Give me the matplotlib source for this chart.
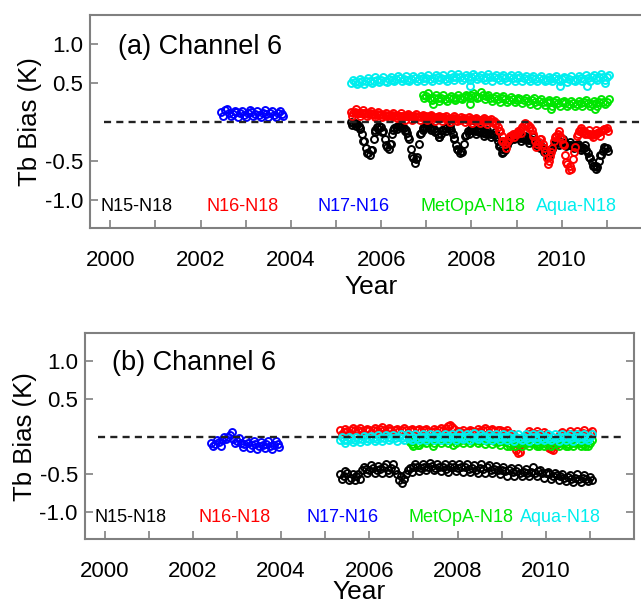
import numpy as np
import matplotlib
matplotlib.use("Agg")
import matplotlib.pyplot as plt

plt.rcParams['font.family'] = ['Liberation Sans', 'DejaVu Sans']

# ---------------- data ----------------
series_names = ["N15-N18", "N16-N18", "N17-N16", "MetOpA-N18", "Aqua-N18"]
series_colors = ["#000000", "#ff0000", "#0000ff", "#00e600", "#00eeee"]
label_years = [1999.78, 2002.13, 2004.58, 2006.88, 2009.42]

year_ticks = list(range(2000, 2012))
year_labels = ["2000", "", "2002", "", "2004", "", "2006", "", "2008", "", "2010", ""]
bias_ticks = [-1.0, -0.5, 0.5, 1.0]
bias_labels = ["-1.0", "-0.5", "0.5", "1.0"]

START = 2005.333      # start of N15/N16/Aqua records
MET_START = 2006.917  # start of MetOpA record
N17_START_A = 2002.46
N17_START_B = 2002.42

# --- panel (a): semi-monthly N15-N18 and N16-N18 (+ monthly second reading)
a_n15 = [0.00, -0.02, -0.01, -0.03, -0.05, -0.08, -0.15, -0.25, -0.33, -0.40, -0.42, -0.36,
         -0.22, -0.10, -0.06, -0.05, -0.07, -0.12, -0.22, -0.32, -0.35, -0.28, -0.15, -0.08,
         -0.06, -0.05, -0.06, -0.07, -0.08, -0.10, -0.14, -0.22, -0.35, -0.46, -0.53, -0.45,
         -0.28, -0.14, -0.08, -0.06, -0.07, -0.06, -0.08, -0.07, -0.09, -0.12, -0.16, -0.19,
         -0.15, -0.10, -0.08, -0.07, -0.09, -0.11, -0.15, -0.22, -0.30, -0.36, -0.40, -0.38,
         -0.28, -0.17, -0.12, -0.10, -0.11, -0.10, -0.12, -0.11, -0.13, -0.12, -0.14, -0.13,
         -0.15, -0.14, -0.16, -0.15, -0.17, -0.20, -0.25, -0.30, -0.35, -0.38, -0.36, -0.30,
         -0.24, -0.20, -0.18, -0.19, -0.20, -0.19, -0.21, -0.20, -0.22, -0.21, -0.23, -0.22,
         -0.24, -0.23, -0.25, -0.27, -0.29, -0.31, -0.34, -0.37, -0.40, -0.42, -0.40, -0.35,
         -0.30, -0.27, -0.26, -0.27, -0.26, -0.28, -0.27, -0.29, -0.30, -0.29, -0.31, -0.30,
         -0.32, -0.31, -0.33, -0.32, -0.34, -0.36, -0.40, -0.46, -0.52, -0.57, -0.60, -0.58,
         -0.50, -0.42, -0.37, -0.34, -0.33]
a_n15_alt = [-0.04, -0.05, -0.09, -0.24, -0.40, -0.36, -0.13, -0.09, -0.13, -0.30,
             -0.28, -0.10, -0.09, -0.03, -0.12, -0.20, -0.44, -0.47, -0.16, -0.11,
             -0.03, -0.11, -0.13, -0.20, -0.11, -0.12, -0.05, -0.21, -0.35, -0.37,
             -0.18, -0.15, -0.07, -0.16, -0.09, -0.18, -0.11, -0.20, -0.13, -0.31,
             -0.40, -0.30, -0.21, -0.22, -0.16, -0.25, -0.18, -0.27, -0.20, -0.29,
             -0.33, -0.39, -0.45, -0.35, -0.27, -0.30, -0.22, -0.31, -0.26, -0.34,
             -0.28, -0.36, -0.30, -0.45, -0.57, -0.57, -0.43, -0.32, -0.37]
a_n16 = [0.13, 0.12, 0.13, 0.11, 0.12, 0.11, 0.12, 0.11, 0.11, 0.10, 0.11, 0.10,
         0.10, 0.09, 0.10, 0.09, 0.10, 0.09, 0.09, 0.08, 0.09, 0.08, 0.09, 0.08,
         0.09, 0.08, 0.07, 0.08, 0.07, 0.08, 0.07, 0.08, 0.07, 0.08, 0.07, 0.06,
         0.07, 0.06, 0.07, 0.06, 0.07, 0.06, 0.07, 0.06, 0.05, 0.06, 0.05, 0.06,
         0.05, 0.06, 0.05, 0.04, 0.05, 0.04, 0.05, 0.04, 0.05, 0.04, 0.03, 0.04,
         0.05, 0.04, 0.03, 0.04, 0.03, 0.04, 0.03, 0.02, 0.03, 0.02, 0.03, 0.02,
         0.01, 0.02, 0.01, 0.00, 0.01, -0.02, -0.06, -0.12, -0.18, -0.24, -0.28, -0.26,
         -0.22, -0.18, -0.16, -0.15, -0.16, -0.14, -0.10, -0.06, -0.04, -0.03, -0.04, -0.06,
         -0.10, -0.16, -0.24, -0.28, -0.26, -0.22, -0.28, -0.38, -0.46, -0.50, -0.44, -0.34,
         -0.24, -0.18, -0.16, -0.18, -0.22, -0.30, -0.42, -0.54, -0.62, -0.60, -0.48, -0.32,
         -0.18, -0.12, -0.11, -0.13, -0.12, -0.14, -0.16, -0.15, -0.17, -0.16, -0.15, -0.14,
         -0.13, -0.12, -0.10, -0.09, -0.08]
a_n16_alt = [0.08, 0.16, 0.08, 0.15, 0.07, 0.14, 0.06, 0.13, 0.06, 0.12,
             0.05, 0.12, 0.05, 0.11, 0.03, 0.10, 0.03, 0.10, 0.03, 0.09,
             0.03, 0.09, 0.01, 0.08, 0.01, 0.08, 0.00, 0.07, 0.01, 0.06,
             0.00, 0.06, -0.01, 0.05, -0.02, 0.05, -0.03, 0.04, -0.03, -0.12,
             -0.24, -0.33, -0.18, -0.20, -0.12, -0.14, -0.01, -0.08, -0.18, -0.32,
             -0.22, -0.34, -0.54, -0.38, -0.20, -0.12, -0.28, -0.52, -0.56, -0.38,
             -0.15, -0.08, -0.16, -0.10, -0.20, -0.11, -0.18, -0.09, -0.12]
# monthly
a_n17 = [0.13, 0.15, 0.12, 0.10, 0.13, 0.11, 0.09, 0.12, 0.13, 0.10, 0.09, 0.12,
         0.10, 0.12, 0.09, 0.11, 0.10]
a_n17_alt = [0.07, 0.16, 0.07, 0.14, 0.06, 0.14, 0.06, 0.15, 0.07, 0.14, 0.06, 0.15,
             0.06, 0.14, 0.06, 0.14, 0.07]
a_met = [0.34,
         0.33, 0.31, 0.30, 0.31, 0.30, 0.29, 0.30, 0.31, 0.30, 0.31, 0.32, 0.33,
         0.34, 0.33, 0.32, 0.35, 0.33, 0.31, 0.30, 0.29, 0.30, 0.29, 0.28, 0.29,
         0.28, 0.29, 0.28, 0.27, 0.28, 0.26, 0.27, 0.26, 0.25, 0.26, 0.25, 0.24,
         0.25, 0.24, 0.23, 0.24, 0.23, 0.24, 0.25, 0.24, 0.23, 0.24, 0.25, 0.26, 0.26]
a_met_alt = [0.30, 0.37, 0.28, 0.34, 0.27, 0.34, 0.27, 0.33, 0.28, 0.34,
             0.29, 0.35, 0.30, 0.37, 0.30, 0.38, 0.29, 0.35, 0.27, 0.33,
             0.26, 0.33, 0.25, 0.32, 0.25, 0.31, 0.24, 0.31, 0.23, 0.30,
             0.22, 0.29, 0.22, 0.28, 0.21, 0.28, 0.20, 0.27, 0.21, 0.27,
             0.20, 0.27, 0.21, 0.28, 0.20, 0.27, 0.21, 0.29, 0.23, 0.29]
a_aqua = [0.50, 0.51, 0.51, 0.52, 0.53, 0.52, 0.53, 0.54,
          0.54, 0.53, 0.55, 0.54, 0.55, 0.56, 0.55, 0.54, 0.55, 0.56, 0.55, 0.56,
          0.56, 0.55, 0.56, 0.57, 0.56, 0.55, 0.56, 0.57, 0.58, 0.57, 0.56, 0.57,
          0.58, 0.59, 0.57, 0.56, 0.57, 0.58, 0.57, 0.56, 0.57, 0.56, 0.57, 0.56,
          0.56, 0.57, 0.56, 0.55, 0.56, 0.55, 0.56, 0.55, 0.54, 0.55, 0.56, 0.55,
          0.55, 0.56, 0.55, 0.54, 0.55, 0.56, 0.55, 0.56, 0.57, 0.56, 0.57, 0.58, 0.57]
a_aqua_alt = [0.54, 0.48, 0.55, 0.49, 0.56, 0.50, 0.57, 0.51, 0.58, 0.51,
              0.58, 0.52, 0.59, 0.52, 0.59, 0.53, 0.59, 0.52, 0.59, 0.53,
              0.60, 0.52, 0.60, 0.54, 0.60, 0.53, 0.61, 0.54, 0.62, 0.54,
              0.60, 0.54, 0.62, 0.55, 0.60, 0.54, 0.61, 0.53, 0.60, 0.54,
              0.60, 0.53, 0.60, 0.53, 0.60, 0.52, 0.59, 0.53, 0.59, 0.52,
              0.59, 0.52, 0.58, 0.52, 0.59, 0.52, 0.58, 0.51, 0.59, 0.52,
              0.59, 0.53, 0.60, 0.53, 0.60, 0.54, 0.61, 0.54, 0.60]
a_met_out_t = [2007.15, 2007.96, 2009.77, 2010.73]
a_met_out_v = [0.23, 0.23, 0.16, 0.16]
a_aqua_out_t = [2007.96, 2009.96, 2010.55, 2010.95]
a_aqua_out_v = [0.46, 0.46, 0.46, 0.50]

# --- panel (b): monthly (+ second reading half a month later)
b_n15 = [-0.50, -0.52, -0.49, -0.55, -0.58, -0.50, -0.45, -0.43,
         -0.44, -0.42, -0.45, -0.43, -0.41, -0.44, -0.42, -0.45, -0.58, -0.62, -0.50, -0.42,
         -0.41, -0.40, -0.42, -0.40, -0.41, -0.39, -0.42, -0.40, -0.41, -0.43, -0.40, -0.41,
         -0.42, -0.40, -0.41, -0.43, -0.42, -0.44, -0.42, -0.43, -0.41, -0.44, -0.43, -0.45,
         -0.44, -0.46, -0.45, -0.47, -0.46, -0.48, -0.47, -0.49, -0.47, -0.48, -0.46, -0.48,
         -0.49, -0.50, -0.52, -0.51, -0.53, -0.55, -0.54, -0.56, -0.55, -0.57, -0.55, -0.56, -0.54]
b_n15_alt = [-0.56, -0.46, -0.58, -0.50, -0.52, -0.56, -0.40, -0.49, -0.38, -0.48,
             -0.39, -0.49, -0.36, -0.48, -0.37, -0.50, -0.52, -0.57, -0.45, -0.47,
             -0.36, -0.46, -0.37, -0.45, -0.35, -0.45, -0.37, -0.46, -0.36, -0.47,
             -0.36, -0.46, -0.37, -0.47, -0.36, -0.47, -0.38, -0.48, -0.37, -0.48,
             -0.38, -0.49, -0.39, -0.50, -0.41, -0.52, -0.42, -0.52, -0.42, -0.53,
             -0.43, -0.53, -0.41, -0.53, -0.45, -0.55, -0.47, -0.57, -0.48, -0.58,
             -0.50, -0.59, -0.51, -0.60, -0.50, -0.60, -0.51, -0.59, -0.58]
b_n16 = [0.08, 0.06, 0.07, 0.08, 0.09, 0.08, 0.07, 0.08,
         0.09, 0.08, 0.09, 0.10, 0.09, 0.08, 0.09, 0.08, 0.07, 0.08, 0.09, 0.08,
         0.07, 0.08, 0.07, 0.08, 0.07, 0.06, 0.07, 0.08, 0.09, 0.11, 0.15, 0.10,
         0.07, 0.06, 0.05, 0.06, 0.07, 0.06, 0.07, 0.08, 0.09, 0.08, 0.07, 0.08,
         0.07, 0.06, 0.05, 0.03, -0.18, -0.20, -0.05, 0.04, 0.05, 0.04, 0.03, 0.02,
         0.03, -0.15, -0.18, -0.10, 0.03, 0.04, 0.03, 0.04, 0.03, 0.04, 0.05, 0.04, 0.05]
b_n16_alt = [0.04, 0.10, 0.04, 0.11, 0.05, 0.11, 0.04, 0.10, 0.05, 0.11,
             0.05, 0.12, 0.05, 0.11, 0.05, 0.10, 0.04, 0.11, 0.05, 0.10,
             0.04, 0.10, 0.04, 0.10, 0.03, 0.10, 0.04, 0.11, 0.06, 0.14,
             0.12, 0.05, 0.04, 0.09, 0.03, 0.09, 0.04, 0.10, 0.05, 0.11,
             0.05, 0.10, 0.04, 0.09, 0.02, 0.08, 0.00, -0.12, -0.22, -0.10,
             0.00, 0.07, 0.02, 0.07, 0.01, 0.06, -0.02, -0.17, -0.12, -0.02,
             0.06, 0.01, 0.07, 0.01, 0.07, 0.02, 0.08, 0.02, 0.07]
b_n17 = [-0.08, -0.10, -0.07, -0.05, -0.03, 0.02, -0.03, -0.06, -0.08, -0.10,
         -0.09, -0.11, -0.10, -0.12, -0.11, -0.10, -0.12, -0.11, -0.10]
b_n17_alt = [-0.13, -0.04, -0.12, -0.01, 0.00, 0.06, -0.08, -0.02, -0.14, -0.05,
             -0.15, -0.06, -0.16, -0.07, -0.15, -0.06, -0.16, -0.06, -0.14]
b_met = [-0.07,
         -0.06, -0.08, -0.05, -0.06, -0.05, -0.04, -0.05, -0.04, -0.05, -0.04, -0.05, -0.04,
         -0.05, -0.04, -0.05, -0.04, -0.06, -0.05, -0.06, -0.05, -0.06, -0.05, -0.06, -0.07,
         -0.06, -0.07, -0.08, -0.07, -0.08, -0.09, -0.08, -0.09, -0.08, -0.09, -0.10, -0.09,
         -0.10, -0.09, -0.10, -0.09, -0.08, -0.09, -0.10, -0.09, -0.08, -0.09, -0.10, -0.09, -0.08]
b_met_alt = [-0.10, -0.03, -0.11, -0.02, -0.09, -0.02, -0.08, -0.01, -0.09, -0.02,
             -0.08, -0.01, -0.09, -0.02, -0.08, -0.02, -0.09, -0.03, -0.09, -0.02,
             -0.10, -0.03, -0.10, -0.04, -0.11, -0.05, -0.12, -0.05, -0.12, -0.06,
             -0.13, -0.06, -0.13, -0.06, -0.13, -0.07, -0.12, -0.06, -0.13, -0.06,
             -0.13, -0.06, -0.12, -0.07, -0.13, -0.06, -0.12, -0.06, -0.13, -0.05]
b_aqua = [-0.05, -0.04, -0.04, -0.03, -0.04, -0.03, -0.03, -0.02,
          -0.03, -0.02, -0.03, -0.02, -0.02, -0.01, -0.02, -0.02, -0.01, -0.02, -0.01, -0.02,
          -0.01, -0.02, -0.01, 0.00, -0.01, -0.01, 0.00, -0.01, 0.00, -0.01, 0.00, -0.01,
          0.00, -0.01, 0.00, 0.01, 0.00, -0.01, 0.00, 0.01, 0.00, -0.01, 0.00, -0.01,
          -0.01, 0.00, -0.01, -0.02, -0.01, -0.02, -0.01, -0.02, -0.01, 0.00, -0.01, -0.02,
          -0.01, -0.02, -0.01, -0.02, -0.01, 0.00, -0.01, -0.02, -0.01, 0.00, -0.01, -0.02, -0.01]
b_aqua_alt = [-0.01, -0.08, 0.00, -0.07, 0.00, -0.07, 0.01, -0.06, 0.01, -0.06,
              0.02, -0.06, 0.02, -0.05, 0.02, -0.06, 0.03, -0.05, 0.03, -0.05,
              0.03, -0.04, 0.04, -0.04, 0.03, -0.04, 0.04, -0.04, 0.04, -0.04,
              0.04, -0.04, 0.05, -0.03, 0.04, -0.04, 0.05, -0.03, 0.04, -0.04,
              0.04, -0.05, 0.03, -0.05, 0.03, -0.05, 0.03, -0.06, 0.03, -0.05,
              0.03, -0.06, 0.03, -0.05, 0.03, -0.05, 0.04, -0.05, 0.03, -0.06,
              0.03, -0.05, 0.04, -0.06, 0.03, -0.05, 0.04, -0.05, 0.03]
b_met_out_t = [2007.0, 2007.1, 2007.45, 2007.9, 2009.2, 2009.85, 2010.5, 2010.9]
b_met_out_v = [-0.12, -0.11, -0.12, -0.11, -0.12, -0.13, -0.13, -0.13]


def times(start, vals, step, shift=0.0):
    return start + shift + np.arange(len(vals)) * step


SEMI, MON = 1 / 24.0, 1 / 12.0

# ---------------- figure ----------------
W, H = 641, 604
fig = plt.figure(figsize=(W / 100, H / 100), dpi=100)

ax_a = fig.add_axes([90 / W, 1 - 228 / H, 562 / W, 213 / H])
ax_b = fig.add_axes([84.7 / W, 1 - 539 / H, 549.3 / W, 205.7 / H])

MS = 5.0
MEW = 1.4


def draw(ax, t, v, color):
    ax.plot(t, v, 'o', ms=MS, mfc='none', mec=color, mew=MEW, zorder=3)


c_n15, c_n16, c_n17, c_met, c_aqua = series_colors

# panel a
draw(ax_a, times(START, a_n15, SEMI), a_n15, c_n15)
draw(ax_a, times(START, a_n15_alt, MON, 1 / 48), a_n15_alt, c_n15)
draw(ax_a, times(START, a_n16, SEMI), a_n16, c_n16)
draw(ax_a, times(START, a_n16_alt, MON, 1 / 48), a_n16_alt, c_n16)
draw(ax_a, times(MET_START, a_met, MON), a_met, c_met)
draw(ax_a, times(MET_START, a_met_alt, MON, SEMI), a_met_alt, c_met)
draw(ax_a, a_met_out_t, a_met_out_v, c_met)
draw(ax_a, times(START, a_aqua, MON), a_aqua, c_aqua)
draw(ax_a, times(START, a_aqua_alt, MON, SEMI), a_aqua_alt, c_aqua)
draw(ax_a, a_aqua_out_t, a_aqua_out_v, c_aqua)
draw(ax_a, times(N17_START_A, a_n17, MON), a_n17, c_n17)
draw(ax_a, times(N17_START_A, a_n17_alt, MON, SEMI), a_n17_alt, c_n17)

# panel b
draw(ax_b, times(START, b_n15, MON), b_n15, c_n15)
draw(ax_b, times(START, b_n15_alt, MON, SEMI), b_n15_alt, c_n15)
draw(ax_b, times(START, b_n16, MON), b_n16, c_n16)
draw(ax_b, times(START, b_n16_alt, MON, SEMI), b_n16_alt, c_n16)
draw(ax_b, times(MET_START, b_met, MON), b_met, c_met)
draw(ax_b, times(MET_START, b_met_alt, MON, SEMI), b_met_alt, c_met)
draw(ax_b, b_met_out_t, b_met_out_v, c_met)
draw(ax_b, times(START, b_aqua, MON), b_aqua, c_aqua)
draw(ax_b, times(START, b_aqua_alt, MON, SEMI), b_aqua_alt, c_aqua)
draw(ax_b, times(N17_START_B, b_n17, MON), b_n17, c_n17)
draw(ax_b, times(N17_START_B, b_n17_alt, MON, SEMI), b_n17_alt, c_n17)

ZERO_X0, ZERO_X1 = 1999.85, 2011.75
for ax, tag, lab_y, title_y, xpad in [(ax_a, "(a)", -1.09, 0.96, 3),
                                      (ax_b, "(b)", -1.08, 0.98, -1)]:
    ax.set_xlim(1999.55, 2012.0)
    ax.set_ylim(-1.36, 1.37)
    ax.hlines(0, ZERO_X0, ZERO_X1, colors="#222222", linewidth=1.7,
              linestyles=(0, (3.0, 2.2)), zorder=4)
    ax.set_xticks(year_ticks)
    ax.set_xticklabels(year_labels, fontsize=16)
    ax.set_yticks(bias_ticks)
    ax.set_yticklabels(bias_labels, fontsize=16)
    ax.tick_params(axis='both', direction='in', length=6, width=1.2, color='#808080',
                   right=True, top=False)
    ax.tick_params(axis='x', pad=15.5)
    ax.tick_params(axis='y', pad=5)
    for s in ax.spines.values():
        s.set_color('#808080')
        s.set_linewidth(1.5)
    ax.set_xlabel("Year", fontsize=19, labelpad=xpad)
    ax.set_ylabel("Tb Bias (K)", fontsize=18.5, labelpad=2)
    ax.text(2000.18, title_y, tag + " Channel 6", fontsize=19.5, va='center', ha='left')
    for name, col, lx in zip(series_names, series_colors, label_years):
        ax.text(lx, lab_y, name, color=col, fontsize=13, va='center', ha='left')

fig.savefig("out.png", dpi=100)
